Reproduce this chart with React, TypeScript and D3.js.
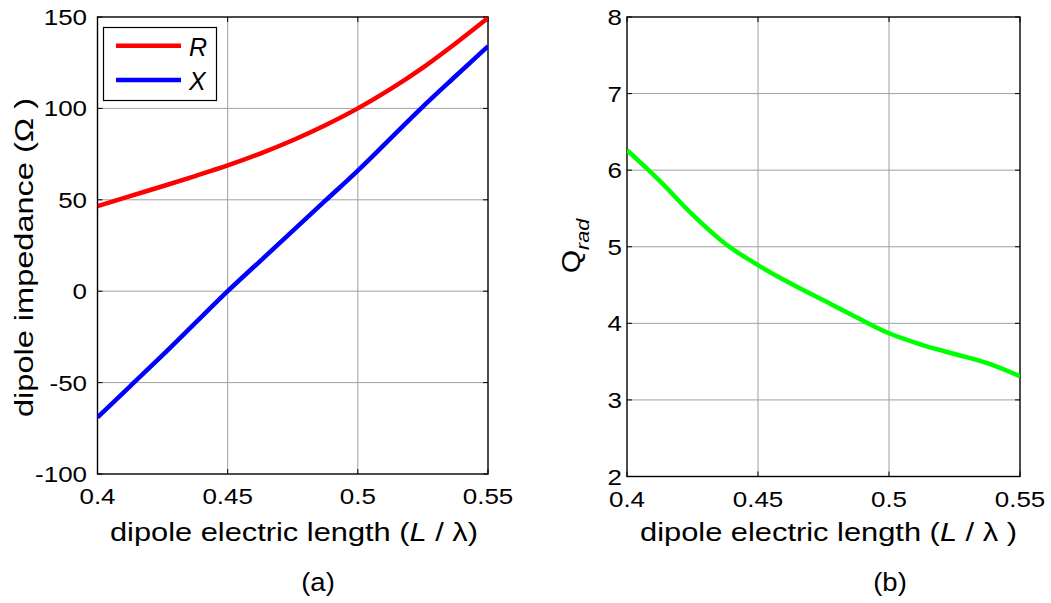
import React from "react";
import * as d3 from "d3";

// Dipole electric length L/λ (shared abscissa)
const lengths = [0.4, 0.4125, 0.425, 0.4375, 0.45, 0.4625, 0.475, 0.4875, 0.5, 0.5125, 0.525, 0.5375, 0.55];
// Input resistance R (Ω)
const resistance = [46.5, 52, 57.4, 63, 68.8, 75.3, 82.6, 90.8, 100, 110.5, 122.3, 135.5, 149.5];
// Input reactance X (Ω)
const reactance = [-69, -52, -35, -17.5, 0, 16.5, 33, 49.5, 66, 83.5, 101, 117.6, 134];
// Radiation quality factor
const qrad = [6.26, 5.86, 5.42, 5.04, 4.76, 4.52, 4.3, 4.08, 3.87, 3.72, 3.6, 3.48, 3.31];

const xTicks = [0.4, 0.45, 0.5, 0.55];
const xTickLabels = ["0.4", "0.45", "0.5", "0.55"];
const zTicks = [-100, -50, 0, 50, 100, 150];
const qTicks = [2, 3, 4, 5, 6, 7, 8];

const FONT = "'Liberation Sans', Arial, Helvetica, sans-serif";
const TICK_FS = 22;
const TICK_SX = 1.18;
const LABEL_FS = 25;

type TProps = {
  x: number;
  y: number;
  anchor?: "start" | "middle" | "end";
  size?: number;
  sx?: number;
  italic?: boolean;
  children: React.ReactNode;
};

// Horizontally widened text
function T({ x, y, anchor = "middle", size = TICK_FS, sx = TICK_SX, italic, children }: TProps) {
  return (
    <text
      transform={`translate(${x},${y}) scale(${sx},1)`}
      textAnchor={anchor}
      fontFamily={FONT}
      fontSize={size}
      fontStyle={italic ? "italic" : "normal"}
      fill="#000"
    >
      {children}
    </text>
  );
}

type FrameProps = {
  x: d3.ScaleLinear<number, number>;
  y: d3.ScaleLinear<number, number>;
  yTicks: number[];
  yLabelRight: number;
};

function Frame({ x, y, yTicks, yLabelRight }: FrameProps) {
  const [x0, x1] = x.range();
  const [y1, y0] = y.range();
  const tl = 5;
  return (
    <g>
      {xTicks.slice(1, -1).map((t) => (
        <line key={"gx" + t} x1={x(t)} x2={x(t)} y1={y0} y2={y1} stroke="#a0a0a0" strokeWidth={1} />
      ))}
      {yTicks.slice(1, -1).map((t) => (
        <line key={"gy" + t} x1={x0} x2={x1} y1={y(t)} y2={y(t)} stroke="#a0a0a0" strokeWidth={1} />
      ))}
      {xTicks.map((t) => (
        <g key={"tx" + t}>
          <line x1={x(t)} x2={x(t)} y1={y1} y2={y1 - tl} stroke="#000" />
          <line x1={x(t)} x2={x(t)} y1={y0} y2={y0 + tl} stroke="#000" />
        </g>
      ))}
      {yTicks.map((t) => (
        <g key={"ty" + t}>
          <line x1={x0} x2={x0 + tl} y1={y(t)} y2={y(t)} stroke="#000" />
          <line x1={x1} x2={x1 - tl} y1={y(t)} y2={y(t)} stroke="#000" />
        </g>
      ))}
      <rect x={x0} y={y0} width={x1 - x0} height={y1 - y0} fill="none" stroke="#000" strokeWidth={1.4} />
      {xTicks.map((t, i) => (
        <T key={"lx" + t} x={x(t)} y={y1 + 30}>
          {xTickLabels[i]}
        </T>
      ))}
      {yTicks.map((t) => (
        <T key={"ly" + t} x={yLabelRight} y={y(t) + 8} anchor="end">
          {String(t)}
        </T>
      ))}
    </g>
  );
}

export default function App() {
  const xa = d3.scaleLinear().domain([0.4, 0.55]).range([97.5, 488]);
  const ya = d3.scaleLinear().domain([-100, 150]).range([474, 17]);
  const xb = d3.scaleLinear().domain([0.4, 0.55]).range([627, 1020]);
  const yb = d3.scaleLinear().domain([2, 8]).range([476.5, 17]);

  const lineA = (vals: number[]) =>
    d3
      .line<number>()
      .x((_, i) => xa(lengths[i]))
      .y((v) => ya(v))
      .curve(d3.curveMonotoneX)(vals) || "";
  const lineB =
    d3
      .line<number>()
      .x((_, i) => xb(lengths[i]))
      .y((v) => yb(v))
      .curve(d3.curveMonotoneX)(qrad) || "";

  const xLabelY = 541;

  return (
    <svg
      width={1051}
      height={603}
      viewBox="0 0 1051 603"
      style={{ position: "absolute", left: 0, top: 0, background: "#fff" }}
    >
      <rect width={1051} height={603} fill="#fff" />
      <defs>
        <clipPath id="clipA">
          <rect x={97.5} y={17} width={390.5} height={457} />
        </clipPath>
        <clipPath id="clipB">
          <rect x={627} y={17} width={393} height={459.5} />
        </clipPath>
      </defs>

      {/* (a) impedance */}
      <Frame x={xa} y={ya} yTicks={zTicks} yLabelRight={87} />
      <g clipPath="url(#clipA)">
        <path d={lineA(resistance)} fill="none" stroke="#ff0000" strokeWidth={4.5} strokeLinejoin="round" />
        <path d={lineA(reactance)} fill="none" stroke="#0000ff" strokeWidth={4.5} strokeLinejoin="round" />
      </g>
      <g>
        <rect x={103.5} y={27.5} width={113} height={73} fill="#fff" stroke="#000" strokeWidth={1.2} />
        <line x1={116} x2={181} y1={45.7} y2={45.7} stroke="#ff0000" strokeWidth={4.5} />
        <line x1={116} x2={181} y1={80} y2={80} stroke="#0000ff" strokeWidth={4.5} />
        <T x={189} y={56} anchor="start" size={LABEL_FS} sx={1} italic>
          R
        </T>
        <T x={189} y={90} anchor="start" size={LABEL_FS} sx={1} italic>
          X
        </T>
      </g>
      <text
        transform="translate(33,257.5) rotate(-90)"
        textAnchor="middle"
        fontFamily={FONT}
        fontSize={LABEL_FS}
        textLength={319}
        lengthAdjust="spacingAndGlyphs"
        fill="#000"
      >
        dipole impedance (Ω )
      </text>
      <text
        x={294}
        y={xLabelY}
        textAnchor="middle"
        fontFamily={FONT}
        fontSize={LABEL_FS}
        textLength={368}
        lengthAdjust="spacingAndGlyphs"
        fill="#000"
      >
        dipole electric length (<tspan fontStyle="italic">L</tspan> / λ)
      </text>
      <T x={318} y={591} size={LABEL_FS} sx={1.1}>
        (a)
      </T>

      {/* (b) radiation Q */}
      <Frame x={xb} y={yb} yTicks={qTicks} yLabelRight={622} />
      <g clipPath="url(#clipB)">
        <path d={lineB} fill="none" stroke="#00ff00" strokeWidth={4.5} strokeLinejoin="round" />
      </g>
      <text transform="translate(580,246) rotate(-90) scale(1.2,1)" textAnchor="middle" fontFamily={FONT} fill="#000">
        <tspan fontSize={LABEL_FS}>Q</tspan>
        <tspan fontSize={18} fontStyle="italic" dy={9}>
          rad
        </tspan>
      </text>
      <text
        x={828.5}
        y={xLabelY}
        textAnchor="middle"
        fontFamily={FONT}
        fontSize={LABEL_FS}
        textLength={377}
        lengthAdjust="spacingAndGlyphs"
        fill="#000"
      >
        dipole electric length (<tspan fontStyle="italic">L</tspan> / λ )
      </text>
      <T x={890} y={591} size={LABEL_FS} sx={1.1}>
        (b)
      </T>
    </svg>
  );
}
